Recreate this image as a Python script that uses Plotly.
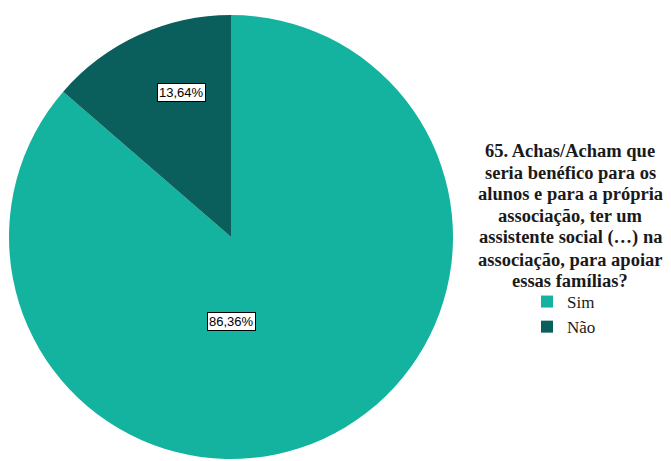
import plotly.graph_objects as go

labels = ["Sim", "Não"]
values = [86.36, 13.64]
colors = ["#14B3A0", "#0A5E5B"]
title_lines = ["65. Achas/Acham que", "seria benéfico para os", "alunos e para a própria",
               "associação, ter um", "assistente social (…) na", "associação, para apoiar",
               "essas famílias?"]

W, H = 671, 461
cx, cy, r = 231, 237, 222
SERIF = "Liberation Serif"

fig = go.Figure(go.Pie(
    labels=labels, values=values, sort=False, direction="clockwise", rotation=0,
    marker=dict(colors=colors, line=dict(width=0)),
    textinfo="none", hoverinfo="label+percent",
    domain=dict(x=[(cx - r) / W, (cx + r) / W], y=[1 - (cy + r) / H, 1 - (cy - r) / H]),
))

# value labels (white boxes)
label_pos = {"Não": (181, 93), "Sim": (231, 321)}
for lab, val in zip(labels, values):
    px, py = label_pos[lab]
    fig.add_annotation(x=px / W, y=1 - py / H, xref="paper", yref="paper",
                       xanchor="center", yanchor="middle",
                       text=f"{val:.2f}%".replace(".", ","), showarrow=False,
                       font=dict(family="Liberation Sans Narrow, Liberation Sans", size=13, color="black"),
                       bgcolor="white", bordercolor="black", borderwidth=1, borderpad=1)

# title, one line per annotation to control line spacing
for i, line in enumerate(title_lines):
    y_px = 151 + i * 21.7
    fig.add_annotation(x=570 / W, y=1 - y_px / H, xref="paper", yref="paper",
                       xanchor="center", yanchor="middle", align="center",
                       text="<b>" + line + "</b>", showarrow=False,
                       font=dict(family=SERIF, size=18.5, color="#1a1a1a"))

fig.update_layout(
    width=W, height=H, margin=dict(l=0, r=0, t=0, b=0),
    paper_bgcolor="white", plot_bgcolor="white",
    showlegend=True,
    legend=dict(x=527 / W, y=1 - 284 / H, xanchor="left", yanchor="top",
                font=dict(family=SERIF, size=17, color="#1a1a1a"),
                itemsizing="constant", tracegroupgap=0, bgcolor="rgba(0,0,0,0)"),
)
fig.write_html("out.html", config={"displayModeBar": False},
               post_script="document.body.style.margin='0';")
